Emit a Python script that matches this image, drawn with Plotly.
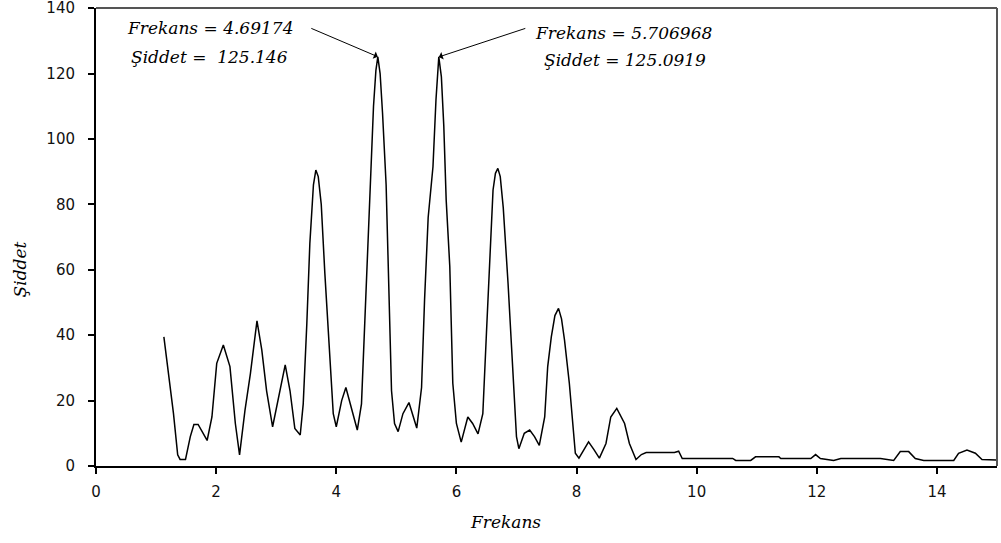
import plotly.graph_objects as go

# Spectrum: frequency (Frekans) vs intensity (Şiddet)
frekans = [
    1.13, 1.21, 1.29, 1.36, 1.40, 1.49, 1.57, 1.63, 1.70, 1.85, 1.93, 2.01, 2.12,
    2.23, 2.32, 2.39, 2.48, 2.57, 2.68, 2.76, 2.84, 2.94, 3.04, 3.15, 3.23, 3.31,
    3.40, 3.45, 3.51, 3.56, 3.62, 3.66, 3.70, 3.75, 3.81, 3.90, 3.95, 4.00, 4.09,
    4.16, 4.26, 4.35, 4.42, 4.50, 4.56, 4.62, 4.66, 4.69174, 4.73, 4.77, 4.83,
    4.87, 4.92, 4.97, 5.03, 5.11, 5.21, 5.34, 5.42, 5.47, 5.53, 5.61, 5.66,
    5.706968, 5.75, 5.79, 5.83, 5.89, 5.94, 6.00, 6.08, 6.19, 6.27, 6.36, 6.44,
    6.50, 6.55, 6.61, 6.65, 6.69, 6.73, 6.78, 6.86, 6.94, 7.00, 7.04, 7.13, 7.22,
    7.30, 7.38, 7.47, 7.52, 7.58, 7.64, 7.70, 7.75, 7.80, 7.88, 7.94, 7.98, 8.04,
    8.12, 8.20, 8.29, 8.38, 8.49, 8.57, 8.67, 8.80, 8.88, 8.99, 9.08, 9.16, 9.63,
    9.70, 9.76, 10.60, 10.65, 10.90, 10.98, 11.37, 11.40, 11.90, 11.98, 12.06,
    12.28, 12.40, 13.06, 13.28, 13.39, 13.53, 13.64, 13.78, 14.28, 14.36, 14.50,
    14.64, 14.75, 14.99,
]
siddet = [
    39.5, 27.3, 16.0, 3.4, 2.0, 2.0, 9.0, 12.7, 12.7, 7.8, 15.0, 31.4, 37.0,
    30.4, 13.0, 3.4, 17.0, 28.2, 44.4, 35.5, 23.0, 12.0, 21.0, 30.9, 23.0, 11.5,
    9.5, 19.0, 43.6, 68.0, 86.0, 90.5, 88.5, 80.0, 58.9, 30.4, 16.0, 12.0, 20.0,
    24.0, 17.0, 11.0, 19.0, 56.0, 86.4, 110.0, 121.0, 125.146, 120.0, 108.0, 86.0,
    55.0, 23.0, 13.0, 10.5, 16.0, 19.4, 11.6, 24.0, 50.8, 76.0, 91.5, 112.0,
    125.0919, 119.0, 104.0, 81.3, 61.0, 25.3, 13.0, 7.3, 15.0, 13.0, 9.8, 16.0,
    40.5, 63.0, 84.4, 89.5, 91.0, 88.5, 79.0, 55.8, 30.4, 9.0, 5.3, 10.0, 11.0,
    9.0, 6.3, 15.0, 30.4, 39.5, 46.0, 48.2, 45.0, 38.5, 25.3, 13.0, 3.9, 2.4,
    5.0, 7.4, 5.0, 2.4, 6.9, 15.0, 17.6, 13.0, 6.9, 2.0, 3.5, 4.1, 4.1,
    4.5, 2.3, 2.3, 1.7, 1.7, 2.8, 2.8, 2.3, 2.3, 3.5, 2.3,
    1.7, 2.3, 2.3, 1.7, 4.4, 4.4, 2.3, 1.7, 1.7, 3.9, 4.9,
    3.9, 2.0, 1.8,
]

x_ticks = [0, 2, 4, 6, 8, 10, 12, 14]
y_ticks = [0, 20, 40, 60, 80, 100, 120, 140]

# Labelled peaks
peak_f = [4.69174, 5.706968]
peak_s = [125.146, 125.0919]
label_line1 = ["Frekans = 4.69174", "Frekans = 5.706968"]
label_line2 = ["Şiddet =  125.146", "Şiddet = 125.0919"]

serif = "DejaVu Serif"
sans = "DejaVu Sans"

fig = go.Figure()
fig.add_trace(go.Scatter(
    x=frekans, y=siddet, mode="lines",
    line=dict(color="black", width=1.5),
    showlegend=False, hoverinfo="x+y",
))

# arrows pointing at the two main peaks
arrow_offsets = [(-68, -29), (88, -29)]
for f, s, (ax, ay) in zip(peak_f, peak_s, arrow_offsets):
    fig.add_annotation(
        x=f, y=s, ax=ax, ay=ay, xref="x", yref="y",
        text="", showarrow=True, arrowhead=1, arrowsize=1.3,
        arrowwidth=1, arrowcolor="black",
    )

# peak value labels, one annotation per line
line1_pos = [(0.1265, 0.956), (0.585, 0.945)]
line2_pos = [(0.1265, 0.893), (0.587, 0.886)]
label_font = dict(family=serif, size=17, color="black", style="italic")
for txt, (px, py) in zip(label_line1 + label_line2, line1_pos + line2_pos):
    fig.add_annotation(
        x=px, y=py, xref="paper", yref="paper",
        text=txt, showarrow=False,
        xanchor="center", yanchor="middle", font=label_font,
    )

# axis titles
title_font = dict(family=serif, size=17, color="black", style="italic")
fig.add_annotation(x=0.455, y=-0.122, xref="paper", yref="paper", text="Frekans",
                   showarrow=False, xanchor="center", yanchor="middle", font=title_font)
fig.add_annotation(x=-0.084, y=0.43, xref="paper", yref="paper", text="Şiddet",
                   showarrow=False, xanchor="center", yanchor="middle", textangle=-90,
                   font=title_font)

# plot-area border on top and right
fig.add_shape(type="line", xref="paper", yref="paper", x0=0, x1=1, y0=1, y1=1,
              line=dict(color="#555555", width=2))
fig.add_shape(type="line", xref="paper", yref="paper", x0=1, x1=1, y0=0, y1=1,
              line=dict(color="#555555", width=2))

fig.update_layout(
    width=1001, height=543,
    margin=dict(l=96, r=4, t=8, b=77),
    paper_bgcolor="white", plot_bgcolor="white",
    xaxis=dict(
        range=[0, 15], tickvals=x_ticks, ticktext=[str(v) for v in x_ticks],
        showgrid=False, zeroline=False, showline=True, linecolor="black",
        linewidth=2, ticks="outside", ticklen=6, tickwidth=1.5, tickcolor="black",
        ticklabelstandoff=5, ticklabeloverflow="allow", automargin=False,
        tickfont=dict(family=sans, size=15, color="#111111"),
    ),
    yaxis=dict(
        range=[0, 140.05], tickvals=y_ticks, ticktext=[str(v) for v in y_ticks],
        showgrid=False, zeroline=False, showline=True, linecolor="black",
        linewidth=2, ticks="outside", ticklen=6, tickwidth=1.5, tickcolor="black",
        ticklabelstandoff=10, ticklabeloverflow="allow", automargin=False,
        tickfont=dict(family=sans, size=15, color="#111111"),
    ),
)

fig.write_html("out.html")
